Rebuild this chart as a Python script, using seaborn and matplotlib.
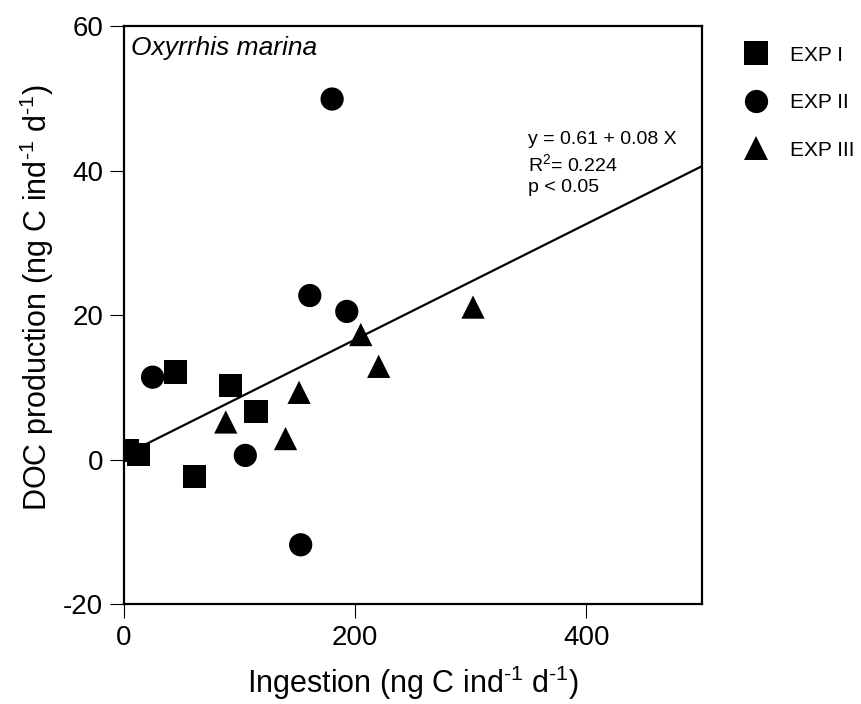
import numpy as np
import pandas as pd
import seaborn as sns
import matplotlib.pyplot as plt

# data
exp1_ingestion = [3.3, 12.7, 44.6, 91.9, 114.2, 60.8]
exp1_doc = [1.2, 0.7, 12.1, 10.3, 6.7, -2.35]
exp2_ingestion = [180.0, 160.7, 192.7, 24.7, 104.9, 152.8]
exp2_doc = [49.9, 22.7, 20.5, 11.4, 0.57, -11.8]
exp3_ingestion = [301.9, 204.8, 220.3, 151.4, 88.0, 139.7]
exp3_doc = [21.1, 17.3, 12.9, 9.3, 5.2, 2.9]

intercept = 0.61
slope = 0.08
r_squared = 0.224

sns.set_style("ticks", {'axes.edgecolor': 'black', 'xtick.color': 'black',
                        'ytick.color': 'black', 'text.color': 'black',
                        'axes.labelcolor': 'black'})
plt.rcParams['font.family'] = ['Liberation Sans', 'DejaVu Sans']
plt.rcParams['mathtext.fontset'] = 'custom'
plt.rcParams['mathtext.rm'] = 'Liberation Sans'
plt.rcParams['mathtext.it'] = 'Liberation Sans:italic'
plt.rcParams['axes.unicode_minus'] = False

df = pd.DataFrame({
    'ingestion': exp1_ingestion + exp2_ingestion + exp3_ingestion,
    'doc': exp1_doc + exp2_doc + exp3_doc,
    'exp': ['EXP I'] * 6 + ['EXP II'] * 6 + ['EXP III'] * 6,
})

fig = plt.figure(figsize=(8.62, 7.04), dpi=100)
ax = fig.add_axes([0.1439, 0.1420, 0.6705, 0.8210])

sns.scatterplot(data=df, x='ingestion', y='doc', style='exp',
                markers={'EXP I': 's', 'EXP II': 'o', 'EXP III': '^'},
                color='black', s=280, linewidth=0, ax=ax, zorder=3)

# regression line from the printed equation
line_x = np.array([df['ingestion'].min(), 500])
ax.plot(line_x, intercept + slope * line_x, color='black', lw=1.6, zorder=2)

ax.set_xlim(0, 500)
ax.set_ylim(-20, 60)
ax.set_xticks([0, 200, 400])
ax.set_yticks([-20, 0, 20, 40, 60])
ax.tick_params(direction='out', length=10, width=0.8, labelsize=20, pad=5,
               colors='black')
for sp in ax.spines.values():
    sp.set_linewidth(1.6)
    sp.set_visible(True)

sup = r'$^{\text{-1}}$'
ax.set_xlabel('Ingestion (ng C ind' + sup + ' d' + sup + ')', fontsize=22, labelpad=9)
ax.set_ylabel('DOC production (ng C ind' + sup + ' d' + sup + ')', fontsize=22)
ax.yaxis.set_label_coords(-0.118, 0.53)

ax.text(0.012, 0.982, 'Oxyrrhis marina', style='italic', fontsize=19,
        transform=ax.transAxes, ha='left', va='top')
ax.text(0.699, 0.818,
        'y = %.2f + %.2f X\nR$^2$= %.3f\np < 0.05' % (intercept, slope, r_squared),
        fontsize=14, transform=ax.transAxes, ha='left', va='top', linespacing=1.3)

sns.move_legend(ax, 'upper left', bbox_to_anchor=(0.841, 0.950),
                bbox_transform=fig.transFigure, frameon=False, title=None,
                fontsize=15, labelspacing=1.37, handlelength=2.0,
                handletextpad=0.6, borderpad=0)

fig.savefig('out.png', dpi=100)
